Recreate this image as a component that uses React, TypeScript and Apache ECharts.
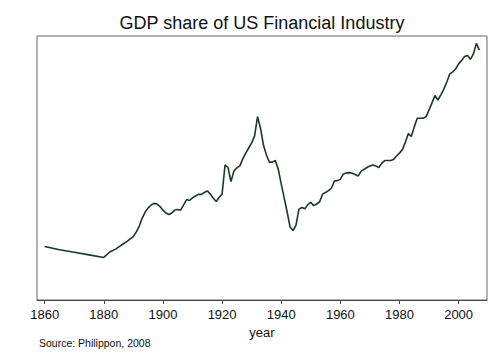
import React, { useEffect, useRef } from "react";
import * as echarts from "echarts";

const years: number[] = [
  1860, 1865, 1870, 1875, 1880, 1882, 1884, 1886, 1888, 1889,
  1890, 1891, 1892, 1893, 1894, 1895, 1896, 1897, 1898, 1899,
  1900, 1901, 1902, 1903, 1904, 1905, 1906, 1907, 1908, 1909,
  1910, 1911, 1912, 1913, 1914, 1915, 1916, 1917, 1918, 1919,
  1920, 1921, 1922, 1923, 1924, 1925, 1926, 1927, 1928, 1929,
  1930, 1931, 1932, 1933, 1934, 1935, 1936, 1937, 1938, 1939,
  1940, 1941, 1942, 1943, 1944, 1945, 1946, 1947, 1948, 1949,
  1950, 1951, 1952, 1953, 1954, 1955, 1956, 1957, 1958, 1959,
  1960, 1961, 1962, 1963, 1964, 1965, 1966, 1967, 1968, 1969,
  1970, 1971, 1972, 1973, 1974, 1975, 1976, 1977, 1978, 1979,
  1980, 1981, 1982, 1983, 1984, 1985, 1986, 1987, 1988, 1989,
  1990, 1991, 1992, 1993, 1994, 1995, 1996, 1997, 1998, 1999,
  2000, 2001, 2002, 2003, 2004, 2005, 2006, 2007,
];

const gdpShare: number[] = [
  1.67, 1.57, 1.49, 1.41, 1.33, 1.5, 1.59, 1.72, 1.84, 1.92,
  1.98, 2.13, 2.31, 2.56, 2.75, 2.88, 2.97, 3.02, 3.0, 2.92,
  2.81, 2.72, 2.67, 2.72, 2.81, 2.83, 2.81, 2.97, 3.14, 3.11,
  3.19, 3.25, 3.3, 3.3, 3.36, 3.41, 3.31, 3.19, 3.08, 3.2,
  3.31, 4.22, 4.14, 3.7, 4.03, 4.13, 4.19, 4.41, 4.59, 4.75,
  4.91, 5.13, 5.73, 5.36, 4.84, 4.53, 4.31, 4.31, 4.36, 4.09,
  3.63, 3.19, 2.75, 2.28, 2.17, 2.34, 2.84, 2.89, 2.85, 2.98,
  3.05, 2.95, 3.0, 3.07, 3.31, 3.36, 3.42, 3.5, 3.72, 3.73,
  3.77, 3.94, 3.97, 3.98, 3.96, 3.92, 3.87, 4.02, 4.08, 4.14,
  4.19, 4.22, 4.19, 4.14, 4.27, 4.36, 4.36, 4.36, 4.39, 4.5,
  4.59, 4.7, 4.94, 5.2, 5.11, 5.41, 5.68, 5.68, 5.68, 5.73,
  5.94, 6.16, 6.39, 6.25, 6.41, 6.59, 6.81, 7.06, 7.13, 7.22,
  7.38, 7.48, 7.61, 7.64, 7.52, 7.69, 8.02, 7.81,
];

const tickYears: number[] = [1860, 1880, 1900, 1920, 1940, 1960, 1980, 2000];

const FONT = "'Liberation Sans', Arial, sans-serif";

export default function App() {
  const ref = useRef<HTMLDivElement>(null);
  useEffect(() => {
    if (!ref.current) return;
    const chart = echarts.init(ref.current, null, { renderer: "svg" });
    const data = years.map((y, i) => [y, gdpShare[i]]);
    chart.setOption({
      animation: false,
      backgroundColor: "#ffffff",
      grid: {
        left: 37,
        right: 13,
        top: 36,
        bottom: 64,
        show: true,
        borderColor: "#666",
        borderWidth: 1,
        backgroundColor: "#fff",
      },
      xAxis: {
        type: "value",
        min: 1857.4,
        max: 2009.6,
        name: "year",
        nameLocation: "middle",
        nameGap: 24,
        nameTextStyle: { fontFamily: FONT, fontSize: 13, color: "#111" },
        axisLine: { show: true, lineStyle: { color: "#444", width: 1 } },
        axisTick: { show: true, length: 4, customValues: tickYears, lineStyle: { color: "#444" } },
        axisLabel: {
          customValues: tickYears,
          formatter: (v: number) => String(Math.round(v)),
          margin: 8,
          fontFamily: FONT,
          fontSize: 13,
          color: "#111",
        },
        splitLine: { show: false },
      },
      yAxis: {
        type: "value",
        min: 0,
        max: 8.25,
        axisLine: { show: false },
        axisTick: { show: false },
        axisLabel: { show: false },
        splitLine: { show: false },
      },
      graphic: [
        {
          type: "text",
          x: 262,
          y: 23,
          style: {
            text: "GDP share of US Financial Industry",
            fontFamily: FONT,
            fontSize: 18,
            fill: "#111",
            align: "center",
            verticalAlign: "middle",
          },
        },
        {
          type: "text",
          left: 39,
          top: 337,
          style: {
            text: "Source: Philippon, 2008",
            fontFamily: FONT,
            fontSize: 10.5,
            fill: "#111",
          },
        },
      ],
      series: [
        {
          type: "line",
          data,
          showSymbol: false,
          lineStyle: { color: "#183a20", width: 1.6 },
          smooth: false,
        },
      ],
    });
    return () => chart.dispose();
  }, []);
  return (
    <div
      ref={ref}
      style={{ position: "fixed", left: 0, top: 0, width: 500, height: 364, background: "#fff" }}
    />
  );
}
